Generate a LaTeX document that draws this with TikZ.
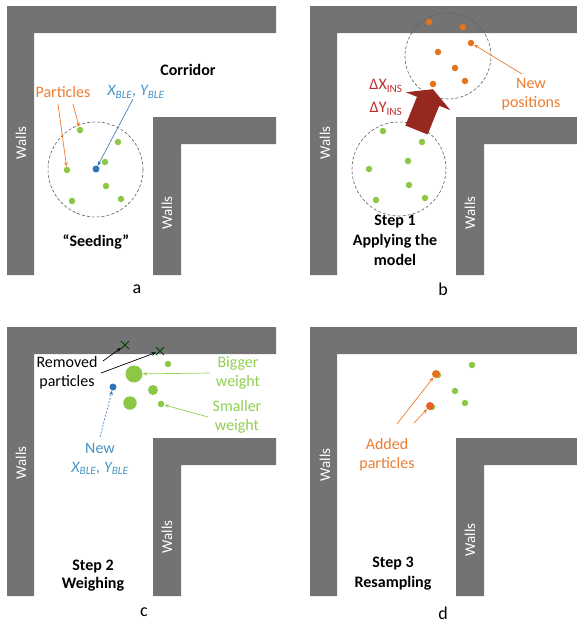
\documentclass[tikz,border=0pt]{standalone}
\usepackage{fontspec}
\setmainfont{Carlito}
\usetikzlibrary{arrows.meta,shapes.misc}
\definecolor{wallgray}{RGB}{115,115,115}
\definecolor{dotgreen}{RGB}{140,200,70}
\definecolor{txtgreen}{RGB}{146,208,80}
\definecolor{orng}{RGB}{237,125,49}
\definecolor{orngdot}{RGB}{230,115,25}
\definecolor{blueDot}{RGB}{46,117,182}
\definecolor{blueTxt}{RGB}{70,150,200}
\definecolor{darkred}{RGB}{150,40,32}
\definecolor{deltared}{RGB}{192,45,45}
\definecolor{circgray}{RGB}{95,95,95}
\tikzset{
  wall/.style={fill=wallgray},
  wallstext/.style={text=white, rotate=90, inner sep=0pt, font=\fontsize{15}{18}\selectfont},
  lbl/.style={align=center, inner sep=0pt, font=\fontsize{16}{19}\selectfont},
  boldlbl/.style={align=center, inner sep=0pt, font=\fontsize{16}{19.5}\selectfont\bfseries},
  panellbl/.style={inner sep=0pt, font=\fontsize{18}{20}\selectfont},
  gdot/.style={circle, inner sep=0pt, fill=dotgreen, minimum size=#1},
  gdot/.default=6.5pt,
  odot/.style={circle, inner sep=0pt, fill=orngdot, minimum size=#1},
  odot/.default=6.5pt,
  bdot/.style={circle, inner sep=0pt, fill=blueDot, minimum size=7pt},
  cloud/.style={draw=circgray, line width=0.6pt, dash pattern=on 3pt off 2pt},
  arr/.style={-{Stealth[length=4.5pt,width=3.5pt]}, line width=0.7pt},
  xmark/.style={cross out, draw=black!75!green, line width=1pt, minimum size=7pt, inner sep=0pt},
}
\newcommand\wallsL{%
  \fill[wall] (7,275) -- (7,6) -- (276,6) -- (276,33) -- (34,33) -- (34,275) -- cycle;
  \fill[wall] (153,275) -- (153,117) -- (276,117) -- (276,144) -- (181,144) -- (181,275) -- cycle;}
\begin{document}
\begin{tikzpicture}[x=1pt,y=-1pt]
\useasboundingbox[fill=white] (0,0) rectangle (576,624);

% ---------------- panel a ----------------
\wallsL
\node[wallstext] (aw1) at (21,143) {Walls};
\node[wallstext] (aw2) at (167,213) {Walls};
\node[boldlbl] (corr) at (188,70) {Corridor};
\node[lbl, text=orng] (apart) at (63,92) {Particles};
\node[lbl, text=blueTxt, font=\fontsize{16}{19}\selectfont\itshape] (axy) at (136,92) {X\textsubscript{BLE}, Y\textsubscript{BLE}};
\node[cloud, circle, minimum size=95pt, inner sep=0pt] (acirc) at (95.5,169.5) {};
\node[gdot] (a1) at (80,130) {};
\node[gdot] (a2) at (118,142) {};
\node[gdot] (a3) at (105,162) {};
\node[gdot] (a4) at (67,170) {};
\node[gdot] (a5) at (106,186) {};
\node[gdot] (a6) at (72,201) {};
\node[gdot] (a7) at (121,199) {};
\node[bdot] (ab) at (96,169) {};
\coordinate (ap1) at (58,104);
\coordinate (ap2) at (73,104);
\coordinate (axys) at (133,99);
\draw[arr, orng] (ap1) -- (a4);
\draw[arr, orng] (ap2) -- (a1);
\draw[arr, blueDot, line width=0.6pt] (axys) -- (ab);
\node[boldlbl] (seed) at (96,242) {“Seeding”};
\node[panellbl] (la) at (137,289) {a};

% ---------------- panel b ----------------
\begin{scope}[shift={(303,0)}]
\wallsL
\end{scope}
\node[wallstext] (bw1) at (325,143) {Walls};
\node[wallstext] (bw2) at (470,213) {Walls};
\node[cloud, circle, minimum size=94pt, inner sep=0pt] (bcirc) at (399,169) {};
\node[gdot] (b1) at (383,131) {};
\node[gdot] (b2) at (422,142) {};
\node[gdot] (b3) at (408,161) {};
\node[gdot] (b4) at (369,169) {};
\node[gdot] (b5) at (409,185) {};
\node[gdot] (b6) at (376,200) {};
\node[gdot] (b7) at (425,198) {};
\node[cloud, circle, minimum size=86pt, inner sep=0pt] (ocirc) at (448,56) {};
\node[odot] (o1) at (429,22) {};
\node[odot] (o2) at (463,27) {};
\node[odot] (o3) at (471,43) {};
\node[odot] (o4) at (438,52) {};
\node[odot] (o5) at (455,68) {};
\node[odot] (o6) at (465,81) {};
\node[odot] (o7) at (433,84) {};
\begin{scope}[shift={(416.5,130)}, rotate=-22]
\fill[darkred] (-12,0) -- (-12,-31) -- (-24,-31) -- (0,-44) -- (24,-31) -- (12,-31) -- (12,0) -- cycle;
\end{scope}
\node[lbl, text=deltared] (dx) at (386,86) {ΔX\textsubscript{INS}};
\node[lbl, text=deltared] (dy) at (386,109) {ΔY\textsubscript{INS}};
\node[lbl, text=orng] (newpos) at (531,94) {New\\positions};
\coordinate (nps) at (522,74);
\draw[arr, orng] (nps) -- (o3);
\node[boldlbl, font=\fontsize{16}{20}\selectfont\bfseries] (step1) at (395,240) {Step 1\\Applying the\\model};
\node[panellbl] (lb) at (443,289) {b};

% ---------------- panel c ----------------
\begin{scope}[shift={(0,321)}]
\wallsL
\end{scope}
\node[wallstext] (cw1) at (21,463) {Walls};
\node[wallstext] (cw2) at (167,537) {Walls};
\node[xmark] (x1) at (125,345) {};
\node[xmark] (x2) at (160,351) {};
\node[gdot=17pt] (c1) at (134,374) {};
\node[gdot=10pt] (c2) at (153,390) {};
\node[gdot=13.5pt] (c3) at (130,403) {};
\node[gdot=6.5pt] (c4) at (168,364) {};
\node[gdot=6.5pt] (c5) at (161,404) {};
\node[bdot] (cb) at (113,387) {};
\node[lbl] (rem) at (67,373) {Removed\\particles};
\coordinate (rm1) at (103,361);
\coordinate (rm2) at (101,373);
\draw[arr, black] (rm1) -- (x1);
\draw[arr, black] (rm2) -- (x2);
\node[lbl, text=txtgreen] (big) at (238,373) {Bigger\\weight};
\node[lbl, text=txtgreen] (small) at (237,417) {Smaller\\weight};
\coordinate (bgs) at (210,373);
\coordinate (sms) at (208,417);
\draw[arr, txtgreen] (bgs) -- (c1);
\draw[arr, txtgreen] (sms) -- (c5);
\node[lbl, text=blueTxt] (cnew) at (100,459) {New\\\textit{X\textsubscript{BLE}, Y\textsubscript{BLE}}};
\coordinate (cns) at (100,437);
\draw[arr, blueDot, line width=0.6pt, dash pattern=on 2pt off 1.5pt] (cns) -- (cb);
\node[boldlbl, font=\fontsize{16}{18}\selectfont\bfseries] (step2) at (93,576) {Step 2\\Weighing};
\node[panellbl] (lc) at (144,612) {c};

% ---------------- panel d ----------------
\begin{scope}[shift={(303,321)}]
\wallsL
\end{scope}
\node[wallstext] (dw1) at (325,465) {Walls};
\node[wallstext] (dw2) at (470,540) {Walls};
\node[gdot] (d1) at (472,365) {};
\node[gdot] (d2) at (455,391) {};
\node[gdot] (d3) at (465,403) {};
\node[gdot] (dg1) at (438,375) {};
\node[gdot] (dg2) at (432,407) {};
\node[odot=8pt] (do1) at (436,374) {};
\node[odot=8pt, fill={rgb,255:red,232;green,95;blue,40}] (do2) at (430,406) {};
\coordinate (das1) at (397,424);
\coordinate (das2) at (414,423);
\draw[arr, orng] (das1) -- (do1);
\draw[arr, orng] (das2) -- (do2);
\node[lbl, text=orng] (added) at (387,455) {Added\\particles};
\node[boldlbl, font=\fontsize{16}{20}\selectfont\bfseries] (step3) at (393,574) {Step 3\\Resampling};
\node[panellbl] (ld) at (443,613) {d};
\end{tikzpicture}
\end{document}
